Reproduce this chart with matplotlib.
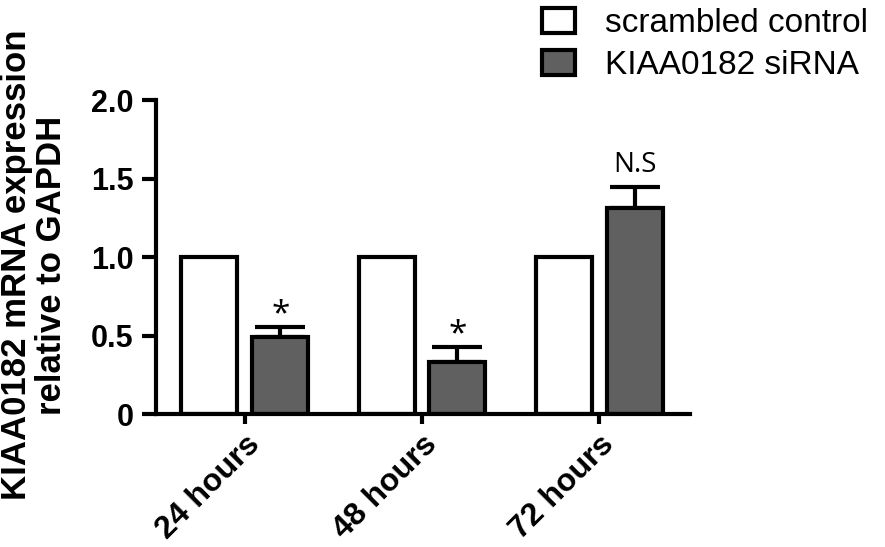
import numpy as np
import matplotlib.pyplot as plt

plt.rcParams['font.family'] = ['Liberation Sans', 'DejaVu Sans']

# data
groups = ['24 hours', '48 hours', '72 hours']
control = [1.0, 1.0, 1.0]
sirna = [0.49, 0.33, 1.31]
sirna_sem = [0.065, 0.095, 0.135]
marks = ['*', '*', 'N.S']
series_names = ['scrambled control', 'KIAA0182 siRNA']

fig = plt.figure(figsize=(8.85, 5.47), dpi=100)
ax = fig.add_axes([0.176, 0.243, 0.604, 0.574])

x = np.arange(len(groups))
w = 0.316
off = 0.2
lw = 3.0

b1 = ax.bar(x - off, control, w, color='white', edgecolor='black', linewidth=lw,
            label=series_names[0], zorder=2)
b2 = ax.bar(x + off, sirna, w, color='#606060', edgecolor='black', linewidth=lw,
            label=series_names[1], zorder=2)
ax.errorbar(x + off, sirna, yerr=[np.zeros(len(sirna)), sirna_sem], fmt='none',
            ecolor='black', elinewidth=lw, capsize=18, capthick=lw, zorder=1)

# significance marks
for xi, v, s, m in zip(x, sirna, sirna_sem, marks):
    dy = 0.08 if m == '*' else 0.14
    ax.text(xi + off, v + s + dy, m, ha='center', va='center',
            fontsize=24 if m == '*' else 20, family='Open Sans')

ax.set_ylim(0, 2.0)
ax.set_xlim(-0.503, 2.514)
ax.set_yticks([0, 0.5, 1.0, 1.5, 2.0])
ax.set_yticklabels(['0', '0.5', '1.0', '1.5', '2.0'], fontsize=22, fontweight='bold')
ax.set_xticks(x)
ax.set_xticklabels(groups, rotation=45, ha='right', rotation_mode='anchor',
                   fontsize=23, fontweight='bold')
ax.tick_params(axis='y', length=10, width=lw, pad=6)
ax.tick_params(axis='x', length=7, width=lw, pad=4)

for side in ['top', 'right']:
    ax.spines[side].set_visible(False)
for side in ['left', 'bottom']:
    ax.spines[side].set_linewidth(lw)

ax.set_ylabel('KIAA0182 mRNA expression\nrelative to GAPDH', fontsize=25,
              fontweight='bold', linespacing=1.05)
ax.yaxis.set_label_coords(-0.165, 0.475)

fig.legend(handles=[b1, b2], loc='upper left', bbox_to_anchor=(0.612, 0.985),
           frameon=False, fontsize=24, handlelength=1.0, handleheight=0.75,
           handletextpad=0.9, labelspacing=0.33, borderpad=0, borderaxespad=0)

fig.savefig('out.png', dpi=100, facecolor='white')
